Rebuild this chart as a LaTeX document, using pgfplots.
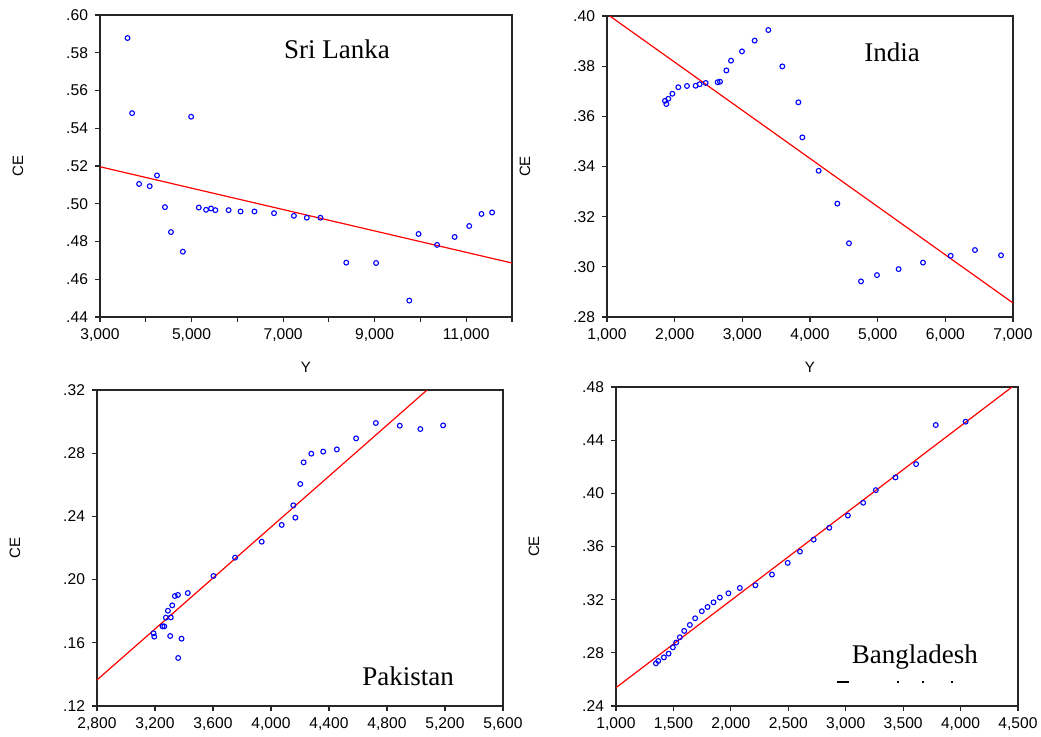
\documentclass[border=0pt]{standalone}
\usepackage{fontspec}
\setmainfont{Liberation Sans}
\newfontfamily\seriffont{Liberation Serif}
\usepackage{pgfplots}
\pgfplotsset{compat=1.18}

\pgfplotsset{
  panel/.style={
    scale only axis,
    axis line style={black!85, line width=0.75pt},
    tick style={black!85, line width=0.6pt},
    tick align=outside, tick pos=left,
    major tick length=2.5pt, minor tick length=2.5pt,
    tick label style={font=\fontsize{7.8}{8}\selectfont},
    /pgf/number format/assume math mode=true,
    /pgf/number format/1000 sep={,},
    yticklabel={\pgfmathprintnumber[fixed, fixed zerofill, precision=2, skip 0.]{\tick}},
    scaled ticks=false,
    ylabel={CE},
    every axis y label/.style={at={(axis description cs:0,0.5)}, xshift=-41pt, rotate=90, anchor=center, font=\fontsize{7.5}{8}\selectfont},
    every axis x label/.style={at={(axis description cs:0.5,0)}, yshift=-25pt, anchor=center, font=\fontsize{7.5}{8}\selectfont},
  },
  pts/.style={only marks, mark=o, mark size=1.2pt, blue, mark options={line width=0.55pt}},
  fit/.style={red, line width=0.6pt, no marks},
}
\tikzset{country/.style={font=\seriffont\fontsize{13.5}{14}\selectfont, anchor=center}}

\begin{document}
\begin{tikzpicture}
\path[use as bounding box] (0,0) rectangle (520.5pt,368pt);

% Sri Lanka
\begin{axis}[panel, at={(50pt,209.5pt)}, anchor=south west, width=206pt, height=151pt,
  xmin=3000, xmax=12000, ymin=0.44, ymax=0.60,
  xtick={3000,5000,7000,9000,11000}, minor xtick={4000,6000,8000,10000,12000},
  ytick={0.44,0.46,0.48,0.50,0.52,0.54,0.56,0.58,0.60}, xlabel={Y}]
\addplot[pts] coordinates {
 (3601,0.5878) (3702,0.5480) (3854,0.5105) (4086,0.5093) (4245,0.5150)
 (4419,0.4982) (4550,0.4850) (4810,0.4746) (4991,0.5461) (5158,0.4980)
 (5317,0.4968) (5426,0.4975) (5520,0.4966) (5810,0.4966) (6070,0.4959)
 (6374,0.4959) (6802,0.4950) (7236,0.4936) (7518,0.4926) (7815,0.4926)
 (8380,0.4688) (9032,0.4686) (9756,0.4487) (9959,0.4840) (10364,0.4782)
 (10748,0.4824) (11066,0.4882) (11334,0.4946) (11566,0.4954)};
\addplot[fit] coordinates {(3000,0.5196) (12000,0.4686)};
\node[country] at (axis cs:8177,0.582) {Sri Lanka};
\end{axis}

% India
\begin{axis}[panel, at={(303.5pt,209.5pt)}, anchor=south west, width=203pt, height=150.5pt,
  xmin=1000, xmax=7000, ymin=0.28, ymax=0.40,
  xtick={1000,2000,3000,4000,5000,6000,7000},
  ytick={0.28,0.30,0.32,0.34,0.36,0.38,0.40}, xlabel={Y}]
\addplot[pts] coordinates {
 (1857,0.3662) (1877,0.3649) (1906,0.3670) (1966,0.3690) (2054,0.3716)
 (2182,0.3721) (2310,0.3722) (2369,0.3728) (2458,0.3733) (2635,0.3736)
 (2670,0.3738) (2764,0.3783) (2833,0.3822) (2995,0.3859) (3182,0.3902)
 (3384,0.3944) (3591,0.3799) (3828,0.3656) (3887,0.3516) (4128,0.3383)
 (4404,0.3252) (4576,0.3094) (4754,0.2942) (4990,0.2967) (5310,0.2991)
 (5670,0.3017) (6079,0.3044) (6438,0.3067) (6823,0.3046)};
\addplot[fit] coordinates {(1000,0.4008) (7000,0.2856)};
\node[country] at (axis cs:5212,0.3856) {India};
\end{axis}

% Pakistan
\begin{axis}[panel, at={(48.5pt,15pt)}, anchor=south west, width=203pt, height=158pt,
  xmin=2800, xmax=5600, ymin=0.12, ymax=0.32,
  xtick={2800,3200,3600,4000,4400,4800,5200,5600},
  ytick={0.12,0.16,0.20,0.24,0.28,0.32}]
\addplot[pts] coordinates {
 (3190,0.1660) (3195,0.1639) (3252,0.1704) (3264,0.1704) (3275,0.1759)
 (3289,0.1803) (3305,0.1643) (3309,0.1761) (3319,0.1837) (3337,0.1896)
 (3358,0.1903) (3360,0.1504) (3383,0.1626) (3426,0.1915) (3603,0.2023)
 (3752,0.2139) (3936,0.2240) (4074,0.2346) (4154,0.2470) (4168,0.2392)
 (4202,0.2605) (4225,0.2742) (4278,0.2797) (4360,0.2810) (4454,0.2824)
 (4587,0.2894) (4723,0.2991) (4888,0.2974) (5030,0.2953) (5187,0.2976)};
\addplot[fit] coordinates {(2800,0.1365) (5100,0.3219)};
\node[country] at (axis cs:4945,0.139) {Pakistan};
\end{axis}

% Bangladesh
\begin{axis}[panel, at={(308pt,15pt)}, anchor=south west, width=201pt, height=159.5pt,
  xmin=1000, xmax=4500, ymin=0.24, ymax=0.48,
  xtick={1000,1500,2000,2500,3000,3500,4000,4500},
  ytick={0.24,0.28,0.32,0.36,0.40,0.44,0.48}]
\addplot[pts] coordinates {
 (1348,0.2721) (1368,0.2739) (1417,0.2766) (1458,0.2794) (1495,0.2841)
 (1524,0.2877) (1556,0.2917) (1594,0.2965) (1643,0.3010) (1689,0.3060)
 (1747,0.3113) (1797,0.3145) (1849,0.3180) (1904,0.3216) (1979,0.3248)
 (2078,0.3288) (2214,0.3308) (2358,0.3389) (2495,0.3477) (2602,0.3562)
 (2721,0.3652) (2857,0.3741) (3019,0.3833) (3152,0.3929) (3262,0.4024)
 (3433,0.4120) (3613,0.4220) (3784,0.4514) (4044,0.4539)};
\addplot[fit] coordinates {(1000,0.2538) (4500,0.4834)};
\node[country] at (axis cs:3603,0.2769) {Bangladesh};
% leftover strokes of a cut-off line of text under the name
\node[inner sep=0pt] at (axis cs:2976,0.2581) {\rule{6pt}{0.6pt}};
\node[inner sep=0pt] at (axis cs:3455,0.2581) {\rule{0.9pt}{0.9pt}};
\node[inner sep=0pt] at (axis cs:3673,0.2581) {\rule{0.9pt}{0.9pt}};
\node[inner sep=0pt] at (axis cs:3925,0.2581) {\rule{0.9pt}{0.9pt}};
\end{axis}
\end{tikzpicture}
\end{document}
